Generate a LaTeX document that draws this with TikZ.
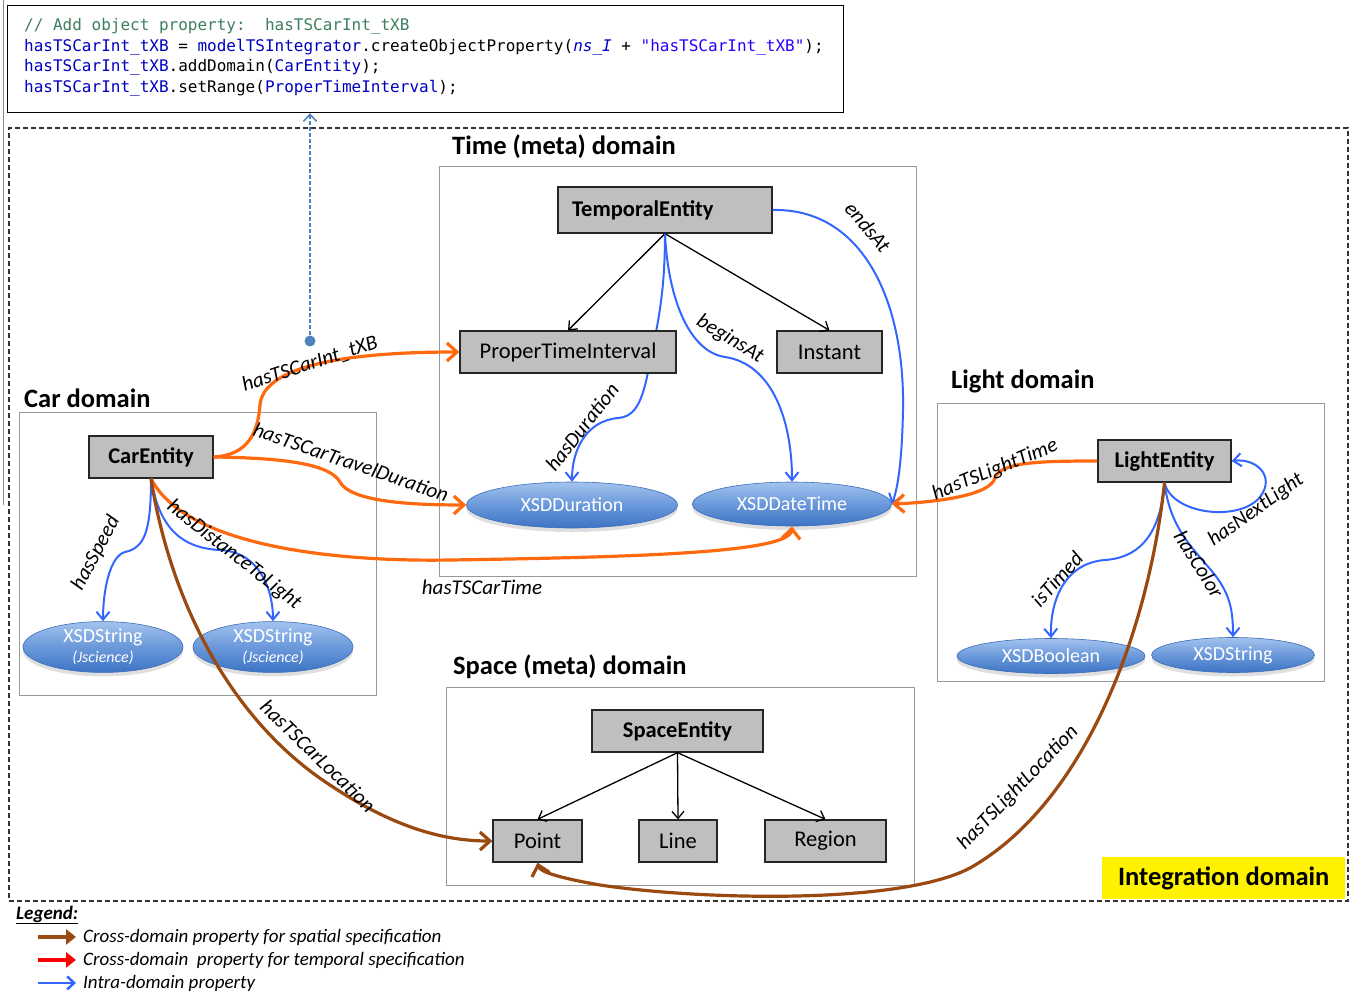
\documentclass[tikz,border=0pt]{standalone}
\usepackage{fontspec}
\setmainfont{Carlito}
\setmonofont{DejaVu Sans Mono}
\usetikzlibrary{shapes.geometric,arrows.meta,shadows}
\pgfdeclarelayer{bg}
\pgfdeclarelayer{edges}
\pgfsetlayers{bg,edges,main}

\definecolor{orangeC}{HTML}{FF6A10}
\definecolor{brownC}{HTML}{9A4A10}
\definecolor{blueC}{HTML}{3366FF}
\definecolor{steelC}{HTML}{4F81BD}
\definecolor{boxfill}{HTML}{BFBFBF}
\definecolor{codegreen}{HTML}{3F7F5F}
\definecolor{codeblue}{HTML}{0000C0}
\definecolor{strblue}{HTML}{2A00FF}
\definecolor{dtTop}{HTML}{A3C3EE}
\definecolor{dtMid}{HTML}{6A98DA}
\definecolor{dtBot}{HTML}{3D74C5}
\definecolor{dtEdge}{HTML}{3A6DB8}

\newcommand\fsz[2]{\fontsize{#1}{#2}\selectfont}

\tikzset{
  domainbox/.style={draw=black!40, line width=1.2pt, inner sep=0pt, anchor=north west},
  dtitle/.style={anchor=base west, inner sep=0pt, font=\bfseries\fsz{26.5}{30}},
  cls/.style={draw=black!85, fill=boxfill, line width=1.3pt, inner sep=0pt, font=\fsz{22.5}{26}},
  clsb/.style={cls, font=\bfseries\fsz{22.5}{26}},
  dtype/.style={ellipse, draw=dtEdge, line width=.6pt, top color=dtTop, bottom color=dtBot,
    middle color=dtMid, text=white, inner sep=0pt, font=\fsz{20}{22},
    drop shadow={opacity=.25, shadow xshift=0pt, shadow yshift=-4pt}},
  elabel/.style={inner sep=0pt, font=\itshape\fsz{21}{24}},
  codeline/.style={anchor=base west, inner sep=0pt, font=\ttfamily\fsz{16}{19}},
  legtext/.style={anchor=base west, inner sep=0pt, font=\itshape\fsz{19}{22}},
  isa/.style={draw=black, line width=1.3pt, -{Straight Barb[length=7pt,width=12pt]}},
  intra/.style={draw=blueC, line width=2pt, -{Straight Barb[length=8pt,width=13pt]}},
  crosstime/.style={draw=orangeC, line width=3.2pt, -{Straight Barb[length=10pt,width=18pt]}},
  crossspace/.style={draw=brownC, line width=3.2pt, -{Straight Barb[length=10pt,width=18pt]}},
  legarrow/.style={line width=#1, shorten >=7pt, -{Triangle[length=10pt,width=15pt]}},
}

\begin{document}
\begin{tikzpicture}[x=1pt,y=-1pt]
\useasboundingbox (0,0) rectangle (1351,993);

% domain frames, behind everything else
\begin{pgfonlayer}{bg}
\fill[white] (0,0) rectangle (1351,993);
\node[domainbox, draw=black!80, dash pattern=on 5pt off 3pt, line width=1.5pt, minimum width=1339pt, minimum height=773pt] (integ) at (8,127) {};
\node[domainbox, minimum width=477pt, minimum height=410pt] (timedom) at (439,166) {};
\node[domainbox, minimum width=357pt, minimum height=283pt] (cardom) at (19,412) {};
\node[domainbox, minimum width=387pt, minimum height=278pt] (lightdom) at (937,403) {};
\node[domainbox, minimum width=468pt, minimum height=198pt] (spacedom) at (446,687) {};
\end{pgfonlayer}

% thin rule at the left margin
\draw[black!45, line width=1pt] (3,0) -- (3,505);

% code excerpt
\node[draw=black, line width=1.2pt, anchor=north west, minimum width=836pt, minimum height=107pt, inner sep=0pt] (codebox) at (7,5) {};
\node[codeline] (code1) at (24,30.5) {\color{codegreen}// Add object property:~~hasTSCarInt\_tXB};
\node[codeline] (code2) at (24,51) {\color{codeblue}hasTSCarInt\_tXB \color{black}= \color{codeblue}modelTSIntegrator\color{black}.createObjectProperty({\itshape\color{codeblue}ns\_I} + \color{strblue}"hasTSCarInt\_tXB"\color{black});};
\node[codeline] (code3) at (24,71.5) {\color{codeblue}hasTSCarInt\_tXB\color{black}.addDomain(\color{codeblue}CarEntity\color{black});};
\node[codeline] (code4) at (24,92) {\color{codeblue}hasTSCarInt\_tXB\color{black}.setRange(\color{codeblue}ProperTimeInterval\color{black});};

\node[dtitle] (timetitle) at (452,154) {Time (meta) domain};
\node[dtitle] (cartitle) at (24,407) {Car domain};
\node[dtitle] (lighttitle) at (951,388) {Light domain};
\node[dtitle] (spacetitle) at (453,674) {Space (meta) domain};
\node[fill=yellow, anchor=north west, minimum width=243pt, minimum height=42pt, inner sep=0pt,
  font=\bfseries\fsz{26.5}{30}] (integtitle) at (1102,857) {Integration domain};

% time domain
\node[clsb, minimum width=214pt, minimum height=46pt, text width=186pt, align=left, inner xsep=14pt] (temporal) at (665,210) {TemporalEntity};
\node[cls, minimum width=216pt, minimum height=42pt] (pti) at (568,352) {ProperTimeInterval};
\node[cls, minimum width=105pt, minimum height=42pt] (instant) at (829.5,352) {Instant};
\node[dtype, minimum width=211pt, minimum height=46pt] (xdur) at (572,505) {XSDDuration};
\node[dtype, minimum width=199pt, minimum height=44pt] (xdt) at (792,504) {XSDDateTime};

% car domain
\node[clsb, minimum width=124pt, minimum height=42pt] (car) at (151,457) {CarEntity};
\node[dtype, minimum width=160pt, minimum height=46pt, align=center] (xstr1) at (103,647) {XSDString\\[-2pt]{\itshape\fsz{16}{18}(Jscience)}};
\node[dtype, minimum width=160pt, minimum height=46pt, align=center] (xstr2) at (273,647) {XSDString\\[-2pt]{\itshape\fsz{16}{18}(Jscience)}};

% light domain
\node[clsb, minimum width=133pt, minimum height=42pt] (light) at (1164.5,461) {LightEntity};
\node[dtype, minimum width=188pt, minimum height=35pt] (xbool) at (1051,656) {XSDBoolean};
\node[dtype, minimum width=163pt, minimum height=35pt] (xstr3) at (1233,655) {XSDString};

% space domain
\node[clsb, minimum width=171pt, minimum height=42pt] (space) at (677.5,731) {SpaceEntity};
\node[cls, minimum width=89pt, minimum height=42pt] (point) at (537.5,841) {Point};
\node[cls, minimum width=78pt, minimum height=42pt] (line) at (678,841) {Line};
\node[cls, minimum width=121pt, minimum height=42pt] (region) at (825.5,841) {Region};

% subclass links
\draw[isa] (temporal.south) -- (pti.north);
\draw[isa] (temporal.south) -- (instant.north);
\draw[isa] (space.south) -- (point.north);
\draw[isa] (space.south) -- (line.north);
\draw[isa] (space.south) -- (region.north);

% intra-domain properties
\begin{pgfonlayer}{edges}
\draw[intra] (temporal.south) .. controls (665,300) and (656,330) .. (648,372)
  .. controls (641,408) and (632,417) .. (618,418) .. controls (586,421) and (572,450) .. (xdur.north);
\end{pgfonlayer}
\draw[intra] (temporal.south) .. controls (668,300) and (690,352) .. (725,357)
  .. controls (772,364) and (792,420) .. (xdt.north);
\draw[intra] (temporal.east) .. controls (862,208) and (905,300) .. (903,410)
  .. controls (902,460) and (898,488) .. (xdt.east);
\draw[intra] (car.south) .. controls (151,530) and (145,548) .. (125,552)
  .. controls (110,556) and (103,590) .. (xstr1.north);
\draw[intra] (car.south) .. controls (158,520) and (175,548) .. (220,550)
  .. controls (260,552) and (273,590) .. (xstr2.north);
\draw[intra] (light.south) .. controls (1160,540) and (1135,558) .. (1105,560)
  .. controls (1065,563) and (1050,600) .. (xbool.north);
\draw[intra] (light.south) .. controls (1170,530) and (1195,550) .. (1215,575)
  .. controls (1230,595) and (1233,610) .. (xstr3.north);
\draw[intra] (light.south) .. controls (1172,515) and (1240,522) .. (1260,497)
  .. controls (1276,476) and (1256,458) .. (light.east);

% cross-domain temporal properties
\draw[crosstime] (car.east) .. controls (250,455) and (258,430) .. (260,405)
  .. controls (263,370) and (330,352) .. (pti.west);
\draw[crosstime] (car.east) .. controls (290,458) and (330,465) .. (340,482)
  .. controls (350,500) and (400,505) .. (xdur.west);
\draw[crosstime] (car.south) .. controls (185,545) and (330,562) .. (450,560)
  .. controls (650,557) and (790,552) .. (xdt.south);
\draw[crosstime] (light.west) .. controls (1040,461) and (1000,462) .. (995,478)
  .. controls (990,495) and (940,502) .. (xdt.east);

% cross-domain spatial properties
\draw[crossspace] (car.south) .. controls (170,600) and (230,720) .. (330,785)
  .. controls (390,825) and (440,841) .. (point.west);
\draw[crossspace] (light.south) .. controls (1150,620) and (1090,800) .. (970,868)
  .. controls (900,905) and (700,900) .. (600,885) .. controls (560,878) and (540,872) .. (point.south);

% link from the property to its code
\coordinate (hook) at (310,341);
\draw[steelC, dash pattern=on 4pt off 2pt, line width=1.5pt, -{Straight Barb[length=7pt,width=13pt]}] (hook) -- (hook |- codebox.south);
\fill[steelC] (hook) circle (5.5);

% property labels
\node[elabel, rotate=18] (lCarInt) at (310,364) {hasTSCarInt\_tXB};
\node[elabel, rotate=-19] (lTravel) at (351,462) {hasTSCarTravelDuration};
\node[elabel] (lCarTime) at (482,587) {hasTSCarTime};
\node[elabel, rotate=22] (lLightTime) at (995,470) {hasTSLightTime};
\node[elabel, rotate=62] (lSpeed) at (96,553) {hasSpeed};
\node[elabel, rotate=-38] (lDist) at (234,555) {hasDistanceToLight};
\node[elabel, rotate=52] (lDur) at (582,427) {hasDuration};
\node[elabel, rotate=-31] (lBegins) at (730,339) {beginsAt};
\node[elabel, rotate=-50] (lEnds) at (868,227) {endsAt};
\node[elabel, rotate=48] (lTimed) at (1057,579) {isTimed};
\node[elabel, rotate=-58] (lColor) at (1199,564) {hasColor};
\node[elabel, rotate=35] (lNext) at (1256,510) {hasNextLight};
\node[elabel, rotate=-44] (lCarLoc) at (318,756) {hasTSCarLocation};
\node[elabel, rotate=46] (lLightLoc) at (1018,788) {hasTSLightLocation};

% legend
\node[anchor=base west, inner sep=0pt, font=\bfseries\itshape\fsz{19}{22}] (legend) at (16,919) {\underline{Legend:}};
\node[legtext] (leg1) at (83,942) {Cross-domain property for spatial specification};
\node[legtext] (leg2) at (83,965) {Cross-domain~ property for temporal specification};
\node[legtext] (leg3) at (83,988) {Intra-domain property};
\coordinate (la1) at (38,0);
\draw[brownC, legarrow=4.5pt] (leg1.west -| la1) -- (leg1.west);
\draw[red, legarrow=4.5pt] (leg2.west -| la1) -- (leg2.west);
\draw[blueC, line width=2.5pt, shorten >=7pt, -{Straight Barb[length=7pt,width=13pt]}] (leg3.west -| la1) -- (leg3.west);
\end{tikzpicture}
\end{document}
